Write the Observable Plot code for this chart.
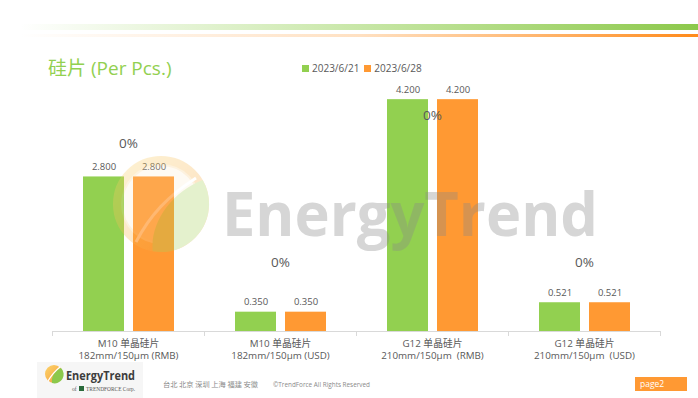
<!DOCTYPE html>
<html><head><meta charset="utf-8">
<script src="https://cdn.jsdelivr.net/npm/d3@7"></script>
<script src="https://cdn.jsdelivr.net/npm/@observablehq/plot@0.6"></script>
<style>
body{margin:0;background:#fff;}
#wrap{position:relative;width:698px;height:398px;overflow:hidden;background:#fff;font-family:'Open Sans','Noto Sans CJK SC',sans-serif;}
#chart{position:absolute;left:0;top:0;}
.abs{position:absolute;white-space:nowrap;}
#title{left:48px;top:55px;font-size:19px;line-height:26px;color:#92D050;}
#legend{left:302px;top:61px;font-size:10px;line-height:14px;color:#595959;display:flex;align-items:center;}
#legend .sw{display:inline-block;width:7px;height:7px;margin-right:3px;}
#legend .it{display:flex;align-items:center;margin-right:5px;}
#page{left:635px;top:377px;width:52px;height:14px;background:#FF9933;color:#fff;font-size:8.5px;line-height:14px;padding-left:5px;box-sizing:border-box;}
</style></head><body>
<div id="wrap">
<svg class="abs" style="left:0;top:0" width="698" height="50">
 <defs>
  <linearGradient id="gband" x1="0" x2="1" y1="0" y2="0">
   <stop offset="0" stop-color="#92D050" stop-opacity="0"/>
   <stop offset="0.35" stop-color="#92D050" stop-opacity="0.35"/>
   <stop offset="1" stop-color="#8cc84b" stop-opacity="1"/>
  </linearGradient>
  <linearGradient id="oband" x1="0" x2="1" y1="0" y2="0">
   <stop offset="0" stop-color="#FF9933" stop-opacity="0"/>
   <stop offset="0.5" stop-color="#FF9933" stop-opacity="0.3"/>
   <stop offset="1" stop-color="#FF8a1a" stop-opacity="1"/>
  </linearGradient>
 </defs>
 <rect x="20" y="24" width="678" height="6" fill="url(#gband)"/>
 <rect x="20" y="34" width="678" height="3" fill="url(#oband)"/>
</svg>
<div id="title" class="abs">硅片 (Per Pcs.)</div>
<div id="legend" class="abs"></div>
<div id="chart"></div>
<svg class="abs" style="left:0;top:0;pointer-events:none" width="698" height="398">
 <defs>
  <linearGradient id="ring" x1="0" y1="0" x2="1" y2="1">
   <stop offset="0" stop-color="#fbd46a"/>
   <stop offset="1" stop-color="#f79a3a"/>
  </linearGradient>
 </defs>
 <g opacity="0.3">
  <circle cx="161" cy="204" r="43" fill="none" stroke="url(#ring)" stroke-width="10"/>
  <circle cx="161" cy="204" r="40" fill="#fbe6c0" opacity="0.6"/>
  <path d="M152.7 251.3 C150 222 172 192 202.6 180 A48 48 0 0 1 152.7 251.3 Z" fill="#a9d45e"/>
  <path d="M136 242 C150 215 168 196 196 178" fill="none" stroke="#fff" stroke-width="3"/>
 </g>
 <text x="222" y="236" font-size="60" font-weight="700" fill="#8a8a8a" opacity="0.34" textLength="376" lengthAdjust="spacingAndGlyphs" font-family="'Open Sans',sans-serif">EnergyTrend</text>
 <rect x="37" y="362" width="106" height="36" fill="#f6f6f6"/>
 <circle cx="54" cy="374" r="9" fill="url(#ring)"/>
 <path d="M52 383 C51 377 55 370 61 368 A9 9 0 0 1 52 383 Z" fill="#8cc84b"/>
 <path d="M48 381 C51 376 55 371 60 367" fill="none" stroke="#fff" stroke-width="1.2"/>
 <text x="66" y="380" font-size="12.5" font-weight="700" fill="#3d3d3d" font-family="'Open Sans',sans-serif" textLength="69" lengthAdjust="spacingAndGlyphs">EnergyTrend</text>
 <text x="72" y="391" font-size="5.5" fill="#555" font-family="'Liberation Serif',serif">of</text>
 <rect x="79" y="386" width="5" height="5" fill="#2a6a3a"/>
 <text x="86" y="391" font-size="5.5" fill="#555" font-family="'Liberation Serif',serif" textLength="49" lengthAdjust="spacingAndGlyphs">TRENDFORCE Corp.</text>
 <text x="163" y="387" font-size="6.5" fill="#8a8a8a" font-family="'Noto Sans CJK SC',sans-serif" textLength="95" lengthAdjust="spacingAndGlyphs">台北 北京 深圳 上海 福建 安徽</text>
 <text x="273" y="387" font-size="6.5" fill="#8a8a8a" font-family="'Open Sans',sans-serif" textLength="97" lengthAdjust="spacingAndGlyphs">©TrendForce All Rights Reserved</text>
</svg>
<div id="page" class="abs">page2</div>
</div>
<script>
const categories = [
  "M10 单晶硅片\n182mm/150μm (RMB)",
  "M10 单晶硅片\n182mm/150μm (USD)",
  "G12 单晶硅片\n210mm/150μm  (RMB)",
  "G12 单晶硅片\n210mm/150μm  (USD)"
];
const dates = ["2023/6/21", "2023/6/28"];
const values0621 = [2.800, 0.350, 4.200, 0.521];
const values0628 = [2.800, 0.350, 4.200, 0.521];
const changes = ["0%", "0%", "0%", "0%"];
const changeLabelY = [3.40, 1.24, 3.91, 1.24];
const colors = ["#92D050", "#FF9933"];

const lg = document.getElementById("legend");
dates.forEach((d, i) => {
  const it = document.createElement("span");
  it.className = "it";
  it.innerHTML = `<span class="sw" style="background:${colors[i]}"></span>${d}`;
  lg.appendChild(it);
});

const data = categories.flatMap((c, i) => [
  {cat: c, date: dates[0], value: values0621[i]},
  {cat: c, date: dates[1], value: values0628[i]}
]);
const pct = categories.map((c, i) => ({cat: c, text: changes[i], y: changeLabelY[i]}));

const ff = "'Open Sans','Noto Sans CJK SC',sans-serif";
const plot = Plot.plot({
  width: 698, height: 398,
  marginTop: 55, marginBottom: 67, marginLeft: 52, marginRight: 38,
  style: {color: "#595959", fontFamily: ff, background: "transparent"},
  fx: {domain: categories, padding: 0, label: null},
  x: {domain: dates, paddingInner: 0.19, paddingOuter: 0.6, axis: null},
  y: {domain: [0, 5], axis: null},
  color: {domain: dates, range: colors},
  marks: [
    Plot.barY(data, {fx: "cat", x: "date", y: "value", fill: "date"}),
    Plot.ruleY([0], {stroke: "#d9d9d9"}),
    Plot.frame({anchor: "left", stroke: "#d9d9d9", insetTop: 276, insetBottom: -4}),
    Plot.frame({anchor: "right", stroke: "#d9d9d9", insetTop: 276, insetBottom: -4}),
    Plot.text(data, {fx: "cat", x: "date", y: "value", text: d => d.value.toFixed(3), dy: -10, fontSize: 9.5, fill: "#595959"}),
    Plot.text(pct, {fx: "cat", y: "y", text: "text", fontSize: 13.5, fill: "#595959"}),
    Plot.axisFx({anchor: "bottom", tickSize: 0, tickPadding: 7, fontSize: 9.8, lineHeight: 1.25, label: null, fill: "#595959"})
  ]
});
document.getElementById("chart").appendChild(plot);
</script>
</body></html>
